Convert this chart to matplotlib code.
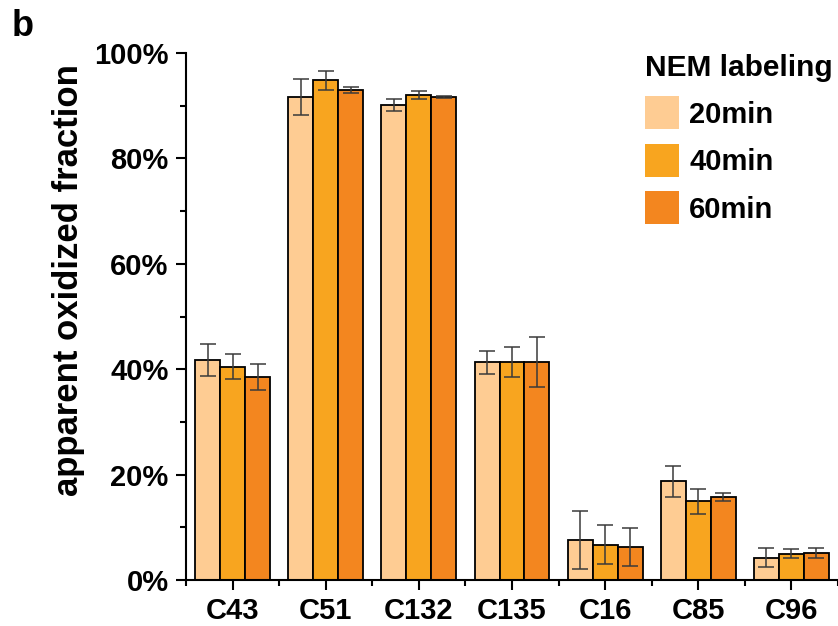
import numpy as np
import matplotlib
matplotlib.use('Agg')
import matplotlib.pyplot as plt
from matplotlib.patches import Patch
from matplotlib.ticker import MultipleLocator, FuncFormatter

plt.rcParams['font.family'] = ['Liberation Sans', 'DejaVu Sans']
plt.rcParams['font.weight'] = 'bold'

# data (percent)
sites = ['C43', 'C51', 'C132', 'C135', 'C16', 'C85', 'C96']
times = ['20min', '40min', '60min']
val_20 = [41.7, 91.7, 90.1, 41.3, 7.5, 18.7, 4.2]
val_40 = [40.5, 94.8, 92.0, 41.4, 6.7, 14.9, 5.0]
val_60 = [38.5, 93.0, 91.7, 41.4, 6.3, 15.8, 5.1]
err_20 = [3.0, 3.4, 1.1, 2.2, 5.5, 2.9, 1.8]
err_40 = [2.4, 1.8, 0.7, 2.8, 3.7, 2.4, 0.9]
err_60 = [2.4, 0.6, 0.2, 4.8, 3.6, 0.8, 1.0]
colors = ['#FECC93', '#F8A51F', '#F3861F']

fig = plt.figure(figsize=(8.38, 6.26), dpi=100)
ax = fig.add_axes([0.222, 0.0735, 0.778, 0.8418])

x = np.arange(len(sites))
w = 0.268
for i, (vals, errs) in enumerate(zip([val_20, val_40, val_60], [err_20, err_40, err_60])):
	ax.bar(x + (i - 1) * w, vals, w, color=colors[i], edgecolor='black', linewidth=1.3,
		   yerr=errs, capsize=6, error_kw=dict(ecolor='#3a3a3a', elinewidth=1.1, capthick=1.1), zorder=2)

ax.set_xlim(-0.5, len(sites) - 0.5)
ax.set_ylim(0, 100)
ax.spines['top'].set_visible(False)
ax.spines['right'].set_visible(False)
for s in ['left', 'bottom']:
	ax.spines[s].set_linewidth(1.5)

ax.set_xticks(x)
ax.set_xticklabels(sites, fontsize=21, fontweight='bold')
ax.set_xticks(np.arange(-0.5, len(sites) + 0.5, 1), minor=True)
ax.yaxis.set_major_locator(MultipleLocator(20))
ax.yaxis.set_minor_locator(MultipleLocator(10))
ax.yaxis.set_major_formatter(FuncFormatter(lambda v, p: '{:.0f}%'.format(v)))
ax.tick_params(axis='both', which='major', length=7.5, width=1.5, labelsize=21, pad=5)
ax.tick_params(axis='both', which='minor', length=4, width=1.5)
for lab in ax.get_yticklabels():
	lab.set_fontweight('bold')

ax.set_ylabel('apparent oxidized fraction', fontsize=25, fontweight='bold')
ax.yaxis.set_label_coords(-0.155, 0.569)

handles = [Patch(facecolor=c, edgecolor='none') for c in colors]
leg = fig.legend(handles, times, loc='upper left', bbox_to_anchor=(0.77, 0.914),
				 frameon=False, title='NEM labeling', alignment='left',
				 prop={'size': 21, 'weight': 'bold'},
				 title_fontproperties={'size': 21.5, 'weight': 'bold'},
				 handlelength=1.15, handleheight=1.36, handletextpad=0.35,
				 labelspacing=0.5, borderpad=0, borderaxespad=0)

fig.text(0.014, 0.942, 'b', fontsize=26, fontweight='bold')

fig.savefig('out.png', dpi=100)
